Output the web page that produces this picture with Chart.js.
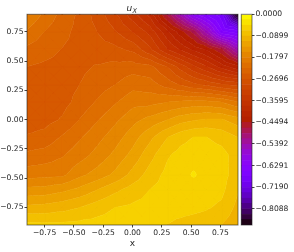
<!DOCTYPE html>
<html>
<head>
<meta charset="utf-8">
<script src="https://cdn.jsdelivr.net/npm/chart.js@4/dist/chart.umd.min.js"></script>
<style>
  body { margin: 0; background: #fff; }
  canvas { position: absolute; top: 0; filter: blur(0.35px); }
</style>
</head>
<body>
<canvas id="mainChart" width="240" height="252" style="left:0"></canvas>
<canvas id="barChart" width="64" height="252" style="left:230px"></canvas>
<script>
// Field: rows go top to bottom, columns left to right
const xGrid = [-0.9, -0.75, -0.6, -0.45, -0.3, -0.15, 0, 0.15, 0.3, 0.41, 0.52, 0.63, 0.76, 0.9];
const yGrid = [0.9, 0.75, 0.6, 0.45, 0.3, 0.15, 0, -0.15, -0.3, -0.47, -0.6, -0.75, -0.9];
const uxGrid = [
    [-0.18, -0.207, -0.232, -0.252, -0.28, -0.31, -0.35, -0.39, -0.48, -0.55, -0.62, -0.655, -0.69, -0.876],
    [-0.205, -0.225, -0.24, -0.255, -0.27, -0.29, -0.315, -0.345, -0.40, -0.44, -0.48, -0.55, -0.645, -0.665],
    [-0.23, -0.238, -0.248, -0.255, -0.26, -0.263, -0.275, -0.31, -0.36, -0.385, -0.41, -0.43, -0.47, -0.55],
    [-0.2475, -0.252, -0.255, -0.252, -0.245, -0.24, -0.235, -0.24, -0.27, -0.30, -0.33, -0.355, -0.39, -0.42],
    [-0.255, -0.257, -0.256, -0.247, -0.236, -0.225, -0.21, -0.215, -0.235, -0.25, -0.265, -0.275, -0.29, -0.30],
    [-0.26, -0.26, -0.255, -0.24, -0.222, -0.205, -0.188, -0.187, -0.18, -0.175, -0.172, -0.172, -0.18, -0.20],
    [-0.258, -0.255, -0.245, -0.224, -0.204, -0.185, -0.165, -0.15, -0.135, -0.122, -0.115, -0.11, -0.11, -0.125],
    [-0.245, -0.24, -0.222, -0.205, -0.187, -0.168, -0.145, -0.118, -0.09, -0.075, -0.067, -0.067, -0.075, -0.09],
    [-0.22, -0.215, -0.205, -0.19, -0.172, -0.152, -0.128, -0.098, -0.07, -0.06, -0.055, -0.056, -0.06, -0.078],
    [-0.19, -0.187, -0.185, -0.163, -0.148, -0.13, -0.105, -0.08, -0.06, -0.054, -0.0425, -0.053, -0.058, -0.08],
    [-0.15, -0.148, -0.14, -0.128, -0.112, -0.095, -0.08, -0.067, -0.058, -0.056, -0.056, -0.056, -0.062, -0.088],
    [-0.107, -0.104, -0.098, -0.09, -0.078, -0.0675, -0.063, -0.06, -0.06, -0.061, -0.062, -0.065, -0.072, -0.097],
    [-0.06, -0.062, -0.062, -0.06, -0.058, -0.056, -0.056, -0.062, -0.068, -0.072, -0.076, -0.08, -0.09, -0.105]
];

const xTicks = [-0.75, -0.5, -0.25, 0, 0.25, 0.5, 0.75];
const xTickLabels = ['−0.75', '−0.50', '−0.25', '0.00', '0.25', '0.50', '0.75'];
const barTicks = [0, -0.0899, -0.1797, -0.2696, -0.3595, -0.4494, -0.5392, -0.6291, -0.719, -0.8088];
const barTickLabels = ['0.0000', '−0.0899', '−0.1797', '−0.2696', '−0.3595', '−0.4494', '−0.5392', '−0.6291', '−0.7190', '−0.8088'];

// 39 filled bands between the colour bar limits
const uMin = -0.8764;
const bandCount = 39;
const bands = [];
for (let i = 0; i < bandCount; i++) {
    const lo = uMin * (bandCount - i) / bandCount;
    const hi = uMin * (bandCount - i - 1) / bandCount;
    bands.push({ lo: lo, hi: hi, color: gnuplotColor(((lo + hi) / 2 - uMin) / -uMin) });
}

// matplotlib's gnuplot colormap
function gnuplotColor(t) {
    const r = Math.sqrt(t);
    const g = t * t * t;
    const b = Math.max(0, Math.sin(2 * Math.PI * t));
    return `rgb(${Math.round(r * 255)},${Math.round(g * 255)},${Math.round(b * 255)})`;
}

const tickFont = { family: '"DejaVu Sans"', size: 7.6 };
const inkColor = '#262626';

// Keep the part of a triangle whose value is on one side of the limit
function clipTriangle(points, limit, keepAbove) {
    const out = [];
    for (let i = 0; i < points.length; i++) {
        const a = points[i];
        const b = points[(i + 1) % points.length];
        const aIn = keepAbove ? a[2] >= limit : a[2] <= limit;
        const bIn = keepAbove ? b[2] >= limit : b[2] <= limit;
        if (aIn) out.push(a);
        if (aIn !== bIn) {
            const f = (limit - a[2]) / (b[2] - a[2]);
            out.push([a[0] + f * (b[0] - a[0]), a[1] + f * (b[1] - a[1]), limit]);
        }
    }
    return out;
}

// Filled contours, each grid cell is cut in four triangles around its centre
const contourPlugin = {
    id: 'contour',
    beforeDatasetsDraw(chart) {
        const ctx = chart.ctx;
        const xs = chart.scales.x;
        const ys = chart.scales.y;
        const area = chart.chartArea;
        const triangles = [];
        for (let j = 0; j < yGrid.length - 1; j++) {
            for (let i = 0; i < xGrid.length - 1; i++) {
                const c = [
                    [xs.getPixelForValue(xGrid[i]), ys.getPixelForValue(yGrid[j]), uxGrid[j][i]],
                    [xs.getPixelForValue(xGrid[i + 1]), ys.getPixelForValue(yGrid[j]), uxGrid[j][i + 1]],
                    [xs.getPixelForValue(xGrid[i + 1]), ys.getPixelForValue(yGrid[j + 1]), uxGrid[j + 1][i + 1]],
                    [xs.getPixelForValue(xGrid[i]), ys.getPixelForValue(yGrid[j + 1]), uxGrid[j + 1][i]]
                ];
                const mid = [0, 1, 2].map(k => (c[0][k] + c[1][k] + c[2][k] + c[3][k]) / 4);
                for (let k = 0; k < 4; k++) triangles.push([c[k], c[(k + 1) % 4], mid]);
            }
        }
        ctx.save();
        ctx.beginPath();
        ctx.rect(area.left, area.top, area.right - area.left, area.bottom - area.top);
        ctx.clip();
        ctx.lineWidth = 0.5;
        ctx.lineJoin = 'round';
        bands.forEach(band => {
            ctx.beginPath();
            triangles.forEach(tri => {
                const poly = clipTriangle(clipTriangle(tri, band.lo, true), band.hi, false);
                if (poly.length < 3) return;
                ctx.moveTo(poly[0][0], poly[0][1]);
                for (let p = 1; p < poly.length; p++) ctx.lineTo(poly[p][0], poly[p][1]);
                ctx.closePath();
            });
            ctx.fillStyle = band.color;
            ctx.strokeStyle = band.color;
            ctx.fill();
            ctx.stroke();
        });
        ctx.restore();
    }
};

const framePlugin = {
    id: 'frame',
    afterDraw(chart) {
        const ctx = chart.ctx;
        const area = chart.chartArea;
        ctx.save();
        ctx.strokeStyle = 'rgba(30,30,30,0.6)';
        ctx.lineWidth = 1;
        ctx.strokeRect(area.left, area.top, area.right - area.left, area.bottom - area.top);
        ctx.restore();
    }
};

// Title u with subscript X, italic like the mathtext original
const titlePlugin = {
    id: 'mathTitle',
    afterDraw(chart) {
        const ctx = chart.ctx;
        ctx.save();
        ctx.fillStyle = inkColor;
        ctx.textBaseline = 'alphabetic';
        ctx.font = 'italic 9px "DejaVu Sans"';
        ctx.fillText('u', 126.5, 11);
        ctx.font = 'italic 6.5px "DejaVu Sans"';
        ctx.fillText('X', 132.5, 12.5);
        ctx.restore();
    }
};

new Chart(document.getElementById('mainChart'), {
    type: 'scatter',
    data: {
        datasets: [{
            data: uxGrid.flatMap((row, j) => row.map((u, i) => ({ x: xGrid[i], y: yGrid[j] }))),
            pointRadius: 0
        }]
    },
    options: {
        responsive: false,
        animation: false,
        layout: { padding: { top: 14.3, right: 2, left: 0, bottom: 0 } },
        plugins: { legend: { display: false }, tooltip: { enabled: false } },
        scales: {
            x: {
                type: 'linear',
                min: -0.9,
                max: 0.9,
                afterBuildTicks: scale => { scale.ticks = xTicks.map(v => ({ value: v })); },
                afterFit: scale => { scale.height = 27; },
                title: { display: true, text: 'x', color: inkColor, font: { family: '"DejaVu Sans"', size: 9 }, padding: { top: 0, bottom: 3 } },
                ticks: {
                    color: inkColor, font: tickFont, maxRotation: 0, autoSkip: false, padding: 1,
                    callback: value => xTickLabels[xTicks.indexOf(value)]
                },
                grid: { drawOnChartArea: false, tickLength: 2.5, color: '#444' },
                border: { display: false }
            },
            y: {
                type: 'linear',
                min: -0.9,
                max: 0.9,
                afterBuildTicks: scale => { scale.ticks = xTicks.map(v => ({ value: v })); },
                afterFit: scale => { scale.width = 27; },
                ticks: {
                    color: inkColor, font: tickFont, autoSkip: false, padding: 1,
                    callback: value => xTickLabels[xTicks.indexOf(value)]
                },
                grid: { drawOnChartArea: false, tickLength: 2.5, color: '#444' },
                border: { display: false }
            }
        }
    },
    plugins: [contourPlugin, framePlugin, titlePlugin]
});

// Colour bar: one floating bar per band
new Chart(document.getElementById('barChart'), {
    type: 'bar',
    data: {
        labels: [''],
        datasets: bands.map(band => ({
            data: [[band.lo, band.hi]],
            backgroundColor: band.color,
            borderColor: band.color,
            borderWidth: 0.3,
            borderSkipped: false,
            barPercentage: 1,
            categoryPercentage: 1,
            grouped: false
        }))
    },
    options: {
        responsive: false,
        animation: false,
        layout: { padding: { top: 14.3, right: 0, left: 11.3, bottom: 27 } },
        plugins: { legend: { display: false }, tooltip: { enabled: false } },
        scales: {
            x: { display: false, stacked: false },
            y: {
                position: 'right',
                min: uMin,
                max: 0,
                afterBuildTicks: scale => { scale.ticks = barTicks.map(v => ({ value: v })); },
                afterFit: scale => { scale.width = 42; },
                ticks: {
                    color: inkColor, font: tickFont, autoSkip: false, padding: 1,
                    callback: value => barTickLabels[barTicks.indexOf(value)]
                },
                grid: { drawOnChartArea: false, tickLength: 2.5, color: '#444' },
                border: { display: false }
            }
        }
    },
    plugins: [framePlugin]
});
</script>
</body>
</html>
